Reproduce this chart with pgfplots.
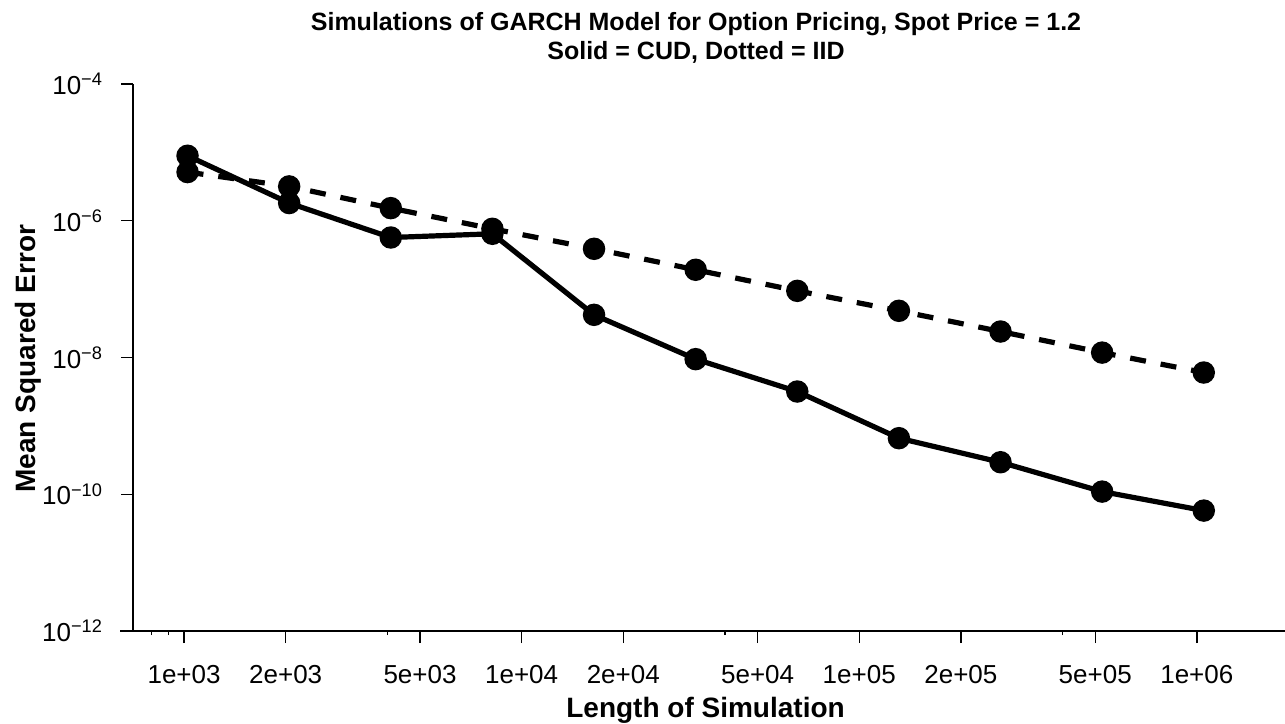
\documentclass[border=0pt]{standalone}
\usepackage{fontspec}
\setmainfont{Liberation Sans}
\usepackage{pgfplots}
\pgfplotsset{compat=1.18}
\begin{document}
\begin{tikzpicture}
\path[use as bounding box] (-66.5pt,-46pt) rectangle (576pt,315.5pt);
\begin{axis}[
  at={(0pt,0pt)}, anchor=south west,
  scale only axis, width=576pt, height=273.5pt,
  xmode=log, ymode=log,
  xmin=706, xmax=1.825e6, ymin=1e-12, ymax=1e-4,
  axis x line=bottom, axis y line=left,
  axis line style={-, black, line width=0.7pt},
  x axis line style={shorten <=-6.5pt},
  xtick={1000,2000,5000,10000,20000,50000,100000,200000,500000,1000000},
  xticklabels={1e+03,2e+03,5e+03,1e+04,2e+04,5e+04,1e+05,2e+05,5e+05,1e+06},
  minor xtick={800,900,4000,40000,400000},
  ytick={1e-12,1e-10,1e-8,1e-6,1e-4},
  yticklabels={10\textsuperscript{−12},10\textsuperscript{−10},10\textsuperscript{−8},10\textsuperscript{−6},10\textsuperscript{−4}},
  minor ytick={},
  tick align=outside,
  major tick length=6pt, minor tick length=2pt,
  tick style={black, line width=0.7pt},
  /pgf/number format/assume math mode=true,
  ticklabel style={font=\fontsize{13}{15}\selectfont},
  xticklabel style={yshift=-7.5pt},
  yticklabel style={xshift=-5.5pt},
  title={Simulations of GARCH Model for Option Pricing, Spot Price = 1.2\\Solid = CUD, Dotted = IID},
  title style={at={(axis description cs:0.4887,1)}, anchor=center, yshift=17pt, align=center, font=\bfseries\fontsize{12.5}{14.5}\selectfont},
  xlabel={Length of Simulation},
  ylabel={Mean Squared Error},
  xlabel style={at={(axis description cs:0.497,-0.1444)}, anchor=center, font=\bfseries\fontsize{14}{16}\selectfont},
  ylabel style={at={(axis description cs:-0.0911,0.4977)}, anchor=center, font=\bfseries\fontsize{14}{16}\selectfont},
  clip=false,
]
\addplot[black, line width=2.6pt, dash pattern=on 8pt off 7.5pt, mark=*, mark size=4.3pt, mark options={solid}] coordinates {
(1024,5.15e-6) (2048,3.18e-6) (4096,1.53e-6) (8192,7.63e-7) (16384,3.89e-7)
(32768,1.92e-7) (65536,9.44e-8) (131072,4.82e-8) (262144,2.40e-8) (524288,1.18e-8) (1048576,6.03e-9)
};
\addplot[black, line width=2.6pt, mark=*, mark size=4.3pt, mark options={solid}] coordinates {
(1024,8.93e-6) (2048,1.815e-6) (4096,5.69e-7) (8192,6.45e-7) (16384,4.21e-8)
(32768,9.46e-9) (65536,3.18e-9) (131072,6.61e-10) (262144,2.94e-10) (524288,1.094e-10) (1048576,5.77e-11)
};
\end{axis}
\end{tikzpicture}
\end{document}
